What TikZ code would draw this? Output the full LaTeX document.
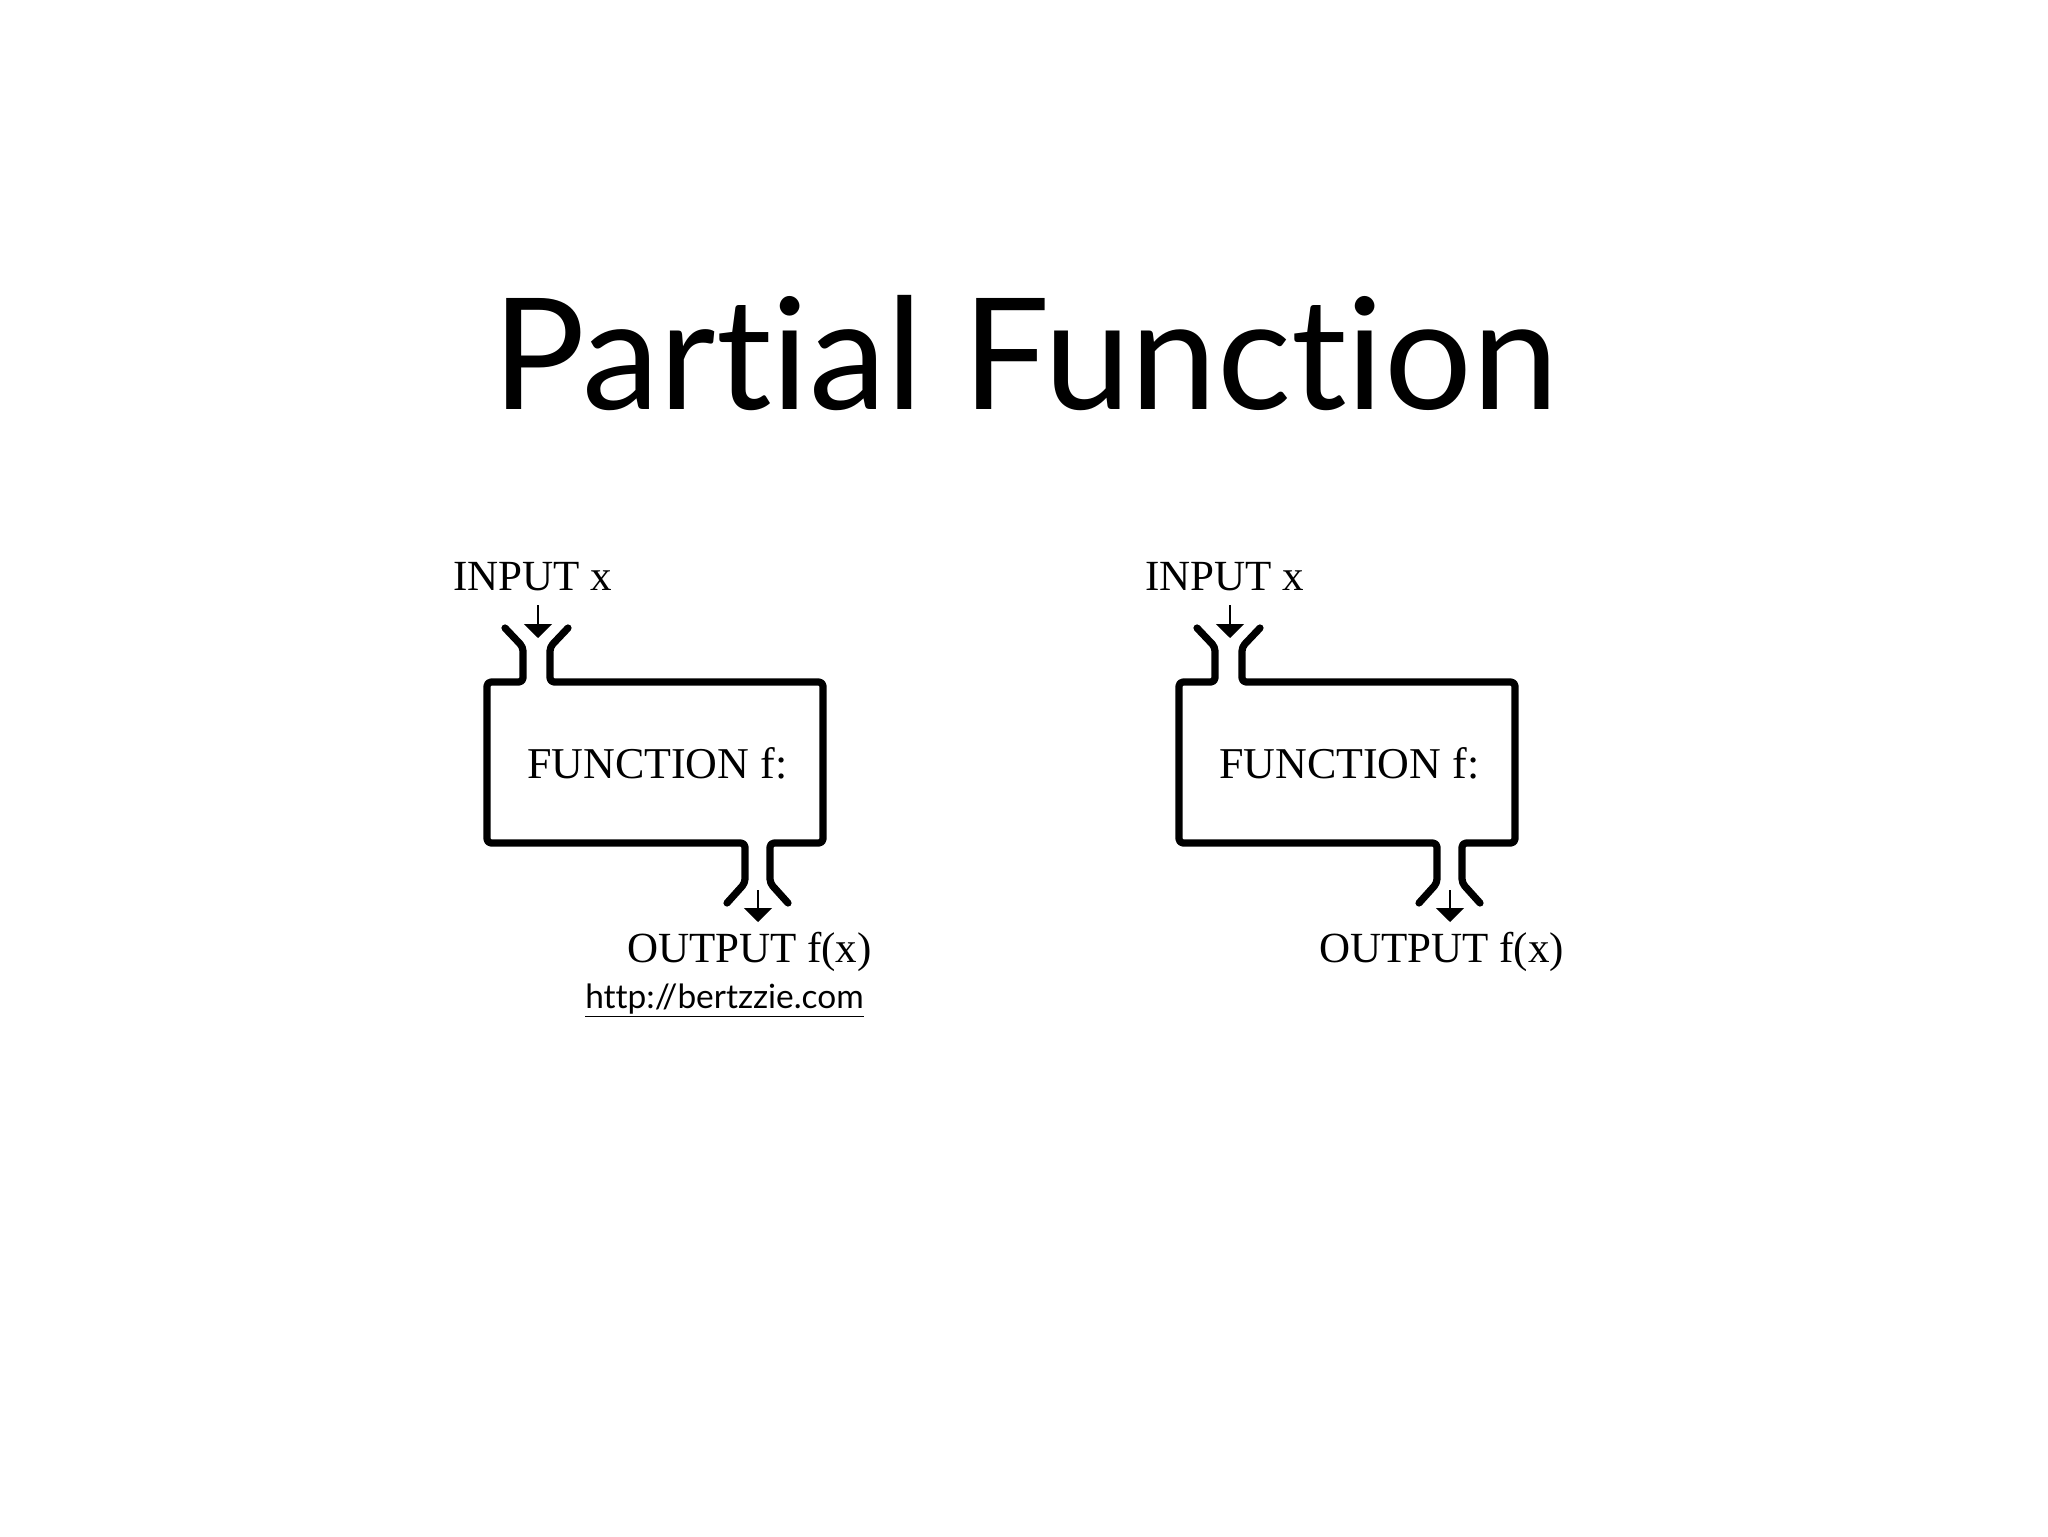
\documentclass[tikz,border=0pt]{standalone}
\usepackage{fontspec}
\setmainfont{Liberation Serif}
\newfontfamily\titlefont[Ligatures=NoCommon]{Lato}
\usetikzlibrary{arrows.meta}
\begin{document}
\begin{tikzpicture}[x=0.5pt,y=-0.5pt,
  txt/.style={inner sep=0pt,outer sep=0pt,anchor=base west,font=\fontsize{21.5}{24}\selectfont},
  wall/.style={line width=3.6pt,line cap=round,line join=round,rounded corners=2pt},
  feed/.style={line width=1pt,-{Triangle[width=14pt,length=7pt]}}]
\useasboundingbox[fill=white] (0,0) rectangle (2048,1536);
\node[inner sep=0pt, anchor=base, font=\titlefont\fontsize{77.5}{80}\selectfont] (title) at (1025,409) {Par\kern0pt tial Func\kern0pt tion};
% left diagram
\node[txt] (inL) at (453,590) {INPUT x};
\node[txt, font=\fontsize{22}{24}\selectfont] (fnL) at (527,778) {FUNCTION f:};
\node[txt] (outL) at (627,962) {OUTPUT f(x)};
\coordinate (inaL) at (538,605);
\coordinate (inbL) at (538,638);
\draw[feed] (inaL) -- (inbL);
\draw[wall] (505,628) -- (523,647) -- (523,682) -- (487,682) -- (487,843) -- (745,843) -- (745,883) -- (727,903);
\draw[wall] (568,628) -- (550,647) -- (550,682) -- (823,682) -- (823,843) -- (770,843) -- (770,883) -- (788,903);
\coordinate (outaL) at (758,890);
\coordinate (outbL) at (758,922);
\draw[feed] (outaL) -- (outbL);
\node[inner sep=0pt, anchor=base, font=\titlefont\fontsize{16.7}{19}\selectfont] (url) at (724.5,1008) {\underline{http://bertzzie.com}};
% right diagram
\begin{scope}[xshift=346pt]
\node[txt] (inR) at (453,590) {INPUT x};
\node[txt, font=\fontsize{22}{24}\selectfont] (fnR) at (527,778) {FUNCTION f:};
\node[txt] (outR) at (627,962) {OUTPUT f(x)};
\coordinate (inaR) at (538,605);
\coordinate (inbR) at (538,638);
\draw[feed] (inaR) -- (inbR);
\draw[wall] (505,628) -- (523,647) -- (523,682) -- (487,682) -- (487,843) -- (745,843) -- (745,883) -- (727,903);
\draw[wall] (568,628) -- (550,647) -- (550,682) -- (823,682) -- (823,843) -- (770,843) -- (770,883) -- (788,903);
\coordinate (outaR) at (758,890);
\coordinate (outbR) at (758,922);
\draw[feed] (outaR) -- (outbR);
\end{scope}
\end{tikzpicture}
\end{document}
